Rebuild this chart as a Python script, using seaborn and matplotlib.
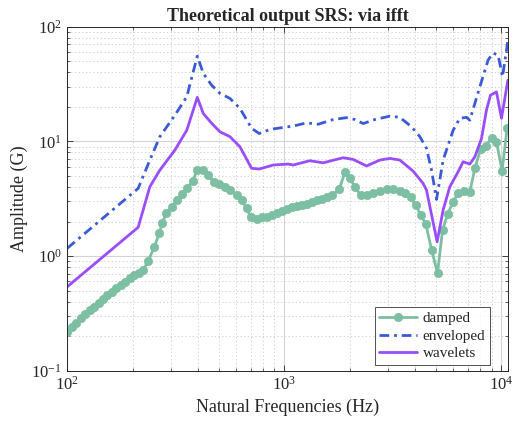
import matplotlib
matplotlib.use("Agg")
import matplotlib.pyplot as plt
import seaborn as sns
import pandas as pd
from matplotlib.ticker import LogLocator, LogFormatterSciNotation, NullFormatter

# ---- data -------------------------------------------------------------
damped_freq = [100, 104.9, 109.9, 115.2, 120.8, 126.7, 132.8, 139.3, 146.0, 153.1,
               160.5, 168.3, 176.5, 185.0, 194.0, 203.4, 213.3, 223.6,
               236, 252, 265, 274, 285, 302, 319, 336, 357, 378, 397, 420, 446, 474,
               501, 532, 561, 603, 635, 670, 701, 745, 785, 828, 873, 920, 971,
               1023, 1079, 1138, 1200, 1265, 1334, 1407, 1484, 1564, 1654, 1788,
               1899, 2003, 2112, 2243, 2390, 2564, 2753, 2954, 3168, 3402, 3588,
               3811, 4019, 4251, 4483, 4761, 5074, 5351, 5642, 5987, 6314, 6706,
               7147, 7537, 8006, 8440, 8995, 9484, 10065, 10612]
damped_amp = [0.219, 0.242, 0.262, 0.290, 0.312, 0.338, 0.361, 0.392, 0.419, 0.457,
              0.489, 0.523, 0.559, 0.597, 0.639, 0.683, 0.714, 0.755,
              0.91, 1.20, 1.58, 1.93, 2.36, 2.69, 3.08, 3.47, 3.89, 4.53, 5.63, 5.63,
              5.05, 4.45, 4.21, 4.02, 3.76, 3.40, 3.08, 2.60, 2.17, 2.09, 2.17, 2.21,
              2.29, 2.38, 2.45, 2.55, 2.65, 2.74, 2.80, 2.84, 2.93, 3.05, 3.15, 3.29,
              3.38, 3.81, 5.36, 4.76, 4.02, 3.40, 3.40, 3.57, 3.71, 3.81, 3.81, 3.71,
              3.52, 3.24, 2.78, 2.28, 1.89, 1.14, 0.71, 1.68, 2.31, 2.97, 3.52, 3.69,
              3.63, 5.80, 8.51, 9.15, 10.6, 9.9, 5.54, 13.0]

env_freq = [100, 212, 240, 267, 313, 355, 397, 423, 462, 505, 561, 624, 706, 766,
            858, 954, 1098, 1265, 1431, 1677, 1934, 2112, 2306, 2611, 3060, 3402,
            3851, 4205, 4514, 4761, 5020, 5384, 5987, 6427, 6902, 7147, 7947, 8677,
            9148, 9647, 10107, 10700]
env_amp = [1.17, 3.89, 6.87, 11.0, 16.9, 24.5, 55.4, 39.2, 30.9, 26.2, 23.7, 19.4,
           13.0, 11.7, 12.7, 13.1, 13.6, 14.5, 14.1, 15.5, 16.1, 15.5, 14.3, 15.5,
           16.6, 16.2, 13.4, 11.0, 8.7, 5.6, 3.12, 6.87, 12.5, 15.9, 16.2, 15.3,
           29.9, 51.2, 59.0, 56.4, 36.6, 75.2]

wav_freq = [100, 212, 240, 267, 313, 355, 397, 423, 462, 505, 561, 624, 706, 766,
            888, 1041, 1098, 1310, 1509, 1865, 2074, 2390, 2753, 3060, 3402, 3917,
            4355, 4514, 5052, 5384, 5781, 6314, 6656, 7147, 7537, 8090, 8530, 8900,
            9484, 10000, 10700]
wav_amp = [0.54, 1.78, 4.02, 5.62, 8.4, 12.5, 24.2, 17.5, 14.4, 12.1, 11.0, 8.97,
           5.82, 5.74, 6.22, 6.34, 6.22, 6.78, 6.5, 7.2, 6.96, 6.1, 6.87, 7.1, 6.87,
           5.5, 4.30, 3.76, 1.33, 2.52, 4.02, 5.43, 6.64, 6.34, 7.33, 10.6, 18.8,
           25.3, 27.0, 15.9, 34.2]

# ---- style ------------------------------------------------------------
sns.set_theme(style="ticks")
plt.rcParams["font.family"] = ["Liberation Serif", "DejaVu Serif"]
plt.rcParams["mathtext.fontset"] = "custom"
plt.rcParams["mathtext.rm"] = "Liberation Serif"
plt.rcParams["mathtext.it"] = "Liberation Serif:italic"
plt.rcParams["lines.scale_dashes"] = False

c_damped = "#7dbfa2"
c_env = "#3b5bd6"
c_wav = "#9a4dfa"

fig = plt.figure(figsize=(5.19, 4.28), dpi=100)
ax = fig.add_axes([0.1297, 0.1339, 0.8497, 0.8037])

damped = pd.DataFrame({"f": damped_freq, "a": damped_amp})
env = pd.DataFrame({"f": env_freq, "a": env_amp})
wav = pd.DataFrame({"f": wav_freq, "a": wav_amp})

sns.lineplot(data=damped, x="f", y="a", ax=ax, color=c_damped, lw=2.0,
             marker="o", markersize=6, markeredgecolor=c_damped,
             markeredgewidth=0.5, label="damped", sort=False, estimator=None)
sns.lineplot(data=env, x="f", y="a", ax=ax, color=c_env, lw=2.0,
             dashes=False, label="enveloped", sort=False, estimator=None)
ax.lines[-1].set_dashes((7, 3.5, 2, 3.5))
sns.lineplot(data=wav, x="f", y="a", ax=ax, color=c_wav, lw=2.0,
             label="wavelets", sort=False, estimator=None)

ax.set_xscale("log")
ax.set_yscale("log")
ax.set_xlim(100, 10750)
ax.set_ylim(0.1, 100)

ax.xaxis.set_major_locator(LogLocator(base=10, numticks=10))
ax.yaxis.set_major_locator(LogLocator(base=10, numticks=10))
ax.xaxis.set_minor_locator(LogLocator(base=10, subs=range(2, 10), numticks=20))
ax.yaxis.set_minor_locator(LogLocator(base=10, subs=range(2, 10), numticks=20))
ax.xaxis.set_major_formatter(LogFormatterSciNotation())
ax.yaxis.set_major_formatter(LogFormatterSciNotation())
ax.xaxis.set_minor_formatter(NullFormatter())
ax.yaxis.set_minor_formatter(NullFormatter())

ax.grid(which="major", color="#d4d4d4", lw=0.8, ls="-")
ax.grid(which="minor", color="#d4d4d4", lw=0.7, ls=":")
ax.set_axisbelow(True)

for s in ax.spines.values():
    s.set_color("#262626")
    s.set_linewidth(0.7)
ax.tick_params(which="both", direction="in", top=True, right=True,
               colors="#262626", labelsize=12)
ax.tick_params(which="major", length=4, width=0.6, pad=4)
ax.tick_params(which="minor", length=2, width=0.5)

ax.set_title("Theoretical output SRS: via ifft", fontsize=13,
             fontweight="bold", pad=4)
ax.set_xlabel("Natural Frequencies (Hz)", fontsize=13, labelpad=3)
ax.set_ylabel("Amplitude (G)", fontsize=13, labelpad=2)

leg = ax.legend(loc="lower right", bbox_to_anchor=(0.9585, 0.0166),
                fontsize=11, frameon=True, fancybox=False,
                handlelength=2.5, borderpad=0.3, labelspacing=0.25,
                handletextpad=0.35, borderaxespad=0.0)
leg.get_frame().set_edgecolor("#262626")
leg.get_frame().set_linewidth(0.7)

fig.savefig("out.png", dpi=100)
